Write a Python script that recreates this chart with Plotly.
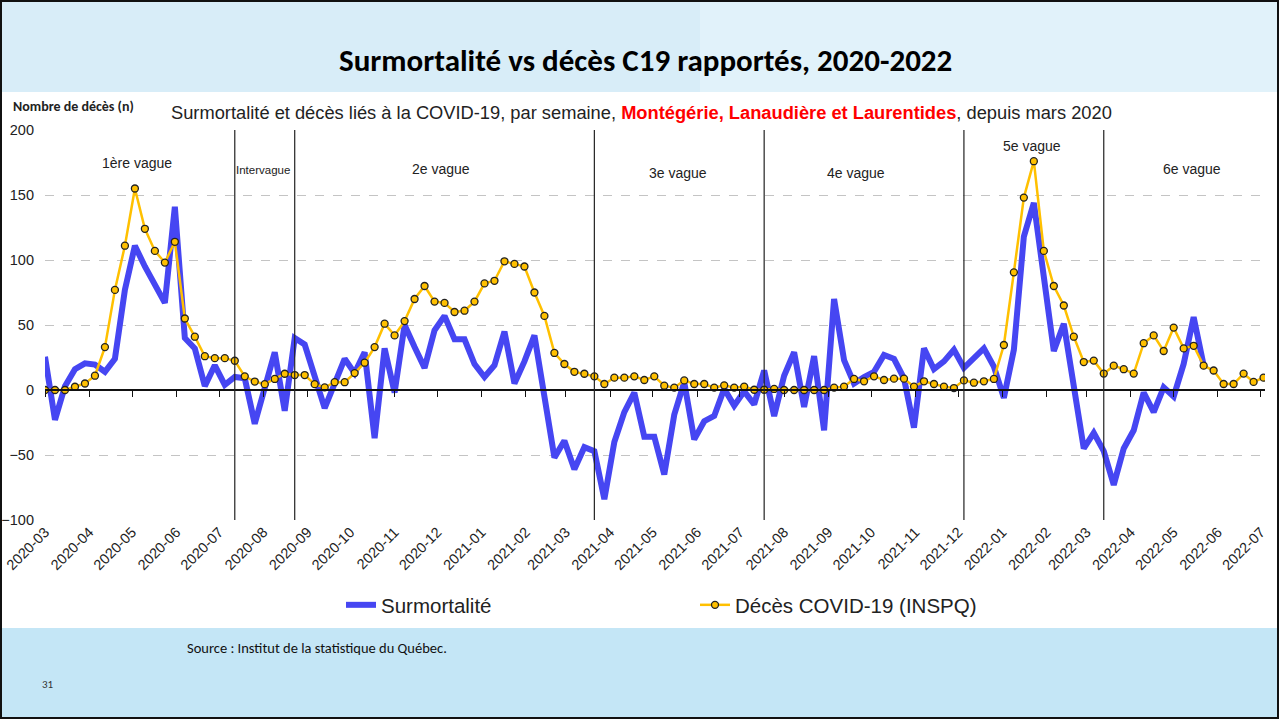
import plotly.graph_objects as go
import pandas as pd

# ---------------- data ----------------
start_date = "2020-03-01"
deces_covid = [0, 0, 0, 2.5, 5, 11, 33, 77, 111, 155,
               124, 107, 98, 114, 55, 41, 26, 24.5, 24.5, 22.5,
               10.5, 6.5, 4.5, 8.5, 12.5, 11.5, 11.5, 4.5, 2, 6,
               6, 13, 21, 33, 51, 42, 53, 70, 80, 68,
               67, 60, 61, 68, 82, 84, 99, 97, 95, 75,
               57, 28.5, 20, 14, 12.5, 10.5, 4.6, 9.5, 9.5, 10.5,
               7.7, 10.5, 3.3, 1.8, 7.4, 4.6, 4.6, 1.8, 3.6, 1.8,
               2.6, 0.2, 0.2, 0.8, 0, 0, 0, 0, 0, 1.8,
               2.6, 8.5, 6.7, 10.5, 7.7, 8.7, 8.7, 2.6, 6.7, 4.6,
               2.6, 1.5, 7.4, 5.6, 6.7, 8.5, 34.6, 90.5, 148, 176,
               107, 80, 65, 41, 21.5, 22.6, 12.6, 18.7, 16, 12.6,
               36, 42, 30, 48, 32, 34, 18.7, 15, 4.6, 4.6,
               12.6, 6.2, 9.5]
surmortalite = [25.6, -23, 3, 16, 20.5, 19.5, 14, 24, 77, 111,
                95, 80, 67, 141, 40, 32, 3, 19, 4, 10,
                9, -26, 2, 29, -16, 40, 35, 11, -14, 5,
                24, 13, 29, -37, 32, -2, 50, 33, 17, 46,
                57, 39, 39, 20, 10, 19, 45, 5, 22, 42,
                -8, -52, -39, -61, -44, -47, -84, -40, -17, -2,
                -36, -36, -65, -19, 6, -38, -24, -20, 1, -12,
                -1, -11, 15, -20, 11, 29, -13, 26, -31, 70,
                23, 5, 10, 14, 27, 24, 9, -29, 32, 16,
                22, 31, 17, 24, 32, 18, -6, 31, 118, 144,
                88, 30, 51, 0, -45, -33, -47, -73, -45, -31,
                -2, -17, 2, -5, 20, 56, 19]
wave_bounds = ["2020-07-12", "2020-08-23", "2021-03-21",
               "2021-07-18", "2021-12-05", "2022-03-13"]
wave_names = ["1ère vague", "Intervague", "2e vague", "3e vague",
              "4e vague", "5e vague", "6e vague"]
y_ticks = [-100, -50, 0, 50, 100, 150, 200]

# ---------------- layout positions (pixels) ----------------
W, H = 1279, 719
PL, PR, PT, PB = 45, 1265, 130, 520


def px_x(p):
    return (p - PL) / (PR - PL)


def px_y(p):
    return (PB - p) / (PB - PT)


wave_label_px = [(137, 163, 14), (263, 170, 11.5), (441, 169, 14),
                 (678, 173, 14), (856, 173, 14), (1032, 146, 14),
                 (1192, 169, 14)]

dates = pd.date_range(start_date, periods=len(deces_covid), freq="7D")
dates_s = dates[:len(surmortalite)]

BLUE = "#4646F2"
GOLD = "#FFC000"
ARIAL = "Liberation Sans, Arial, sans-serif"
CAL = "Carlito, Lato, sans-serif"

fig = go.Figure()
fig.add_trace(go.Scatter(
    x=dates_s, y=surmortalite, mode="lines", name="Surmortalité",
    line=dict(color=BLUE, width=6)))
fig.add_trace(go.Scatter(
    x=dates, y=deces_covid, mode="lines+markers", name="Décès COVID-19 (INSPQ)",
    line=dict(color=GOLD, width=2.5),
    marker=dict(color=GOLD, size=7, line=dict(color="#222", width=1.3))))
# invisible trace to carry the zero-line axis
fig.add_trace(go.Scatter(x=dates, y=deces_covid, xaxis="x2", mode="lines",
                         line=dict(width=0), opacity=0, showlegend=False,
                         hoverinfo="skip"))

x_end = dates[-1] + pd.Timedelta(days=1)

shapes = []
# backgrounds
shapes.append(dict(type="rect", xref="paper", yref="paper", layer="below",
                   x0=px_x(0), x1=px_x(W), y0=px_y(92), y1=px_y(0),
                   fillcolor="#d8edf8", line=dict(width=0)))
shapes.append(dict(type="rect", xref="paper", yref="paper", layer="below",
                   x0=px_x(700), x1=px_x(W), y0=px_y(92), y1=px_y(0),
                   fillcolor="#e6f4fb", line=dict(width=0), opacity=0.7))
shapes.append(dict(type="rect", xref="paper", yref="paper", layer="below",
                   x0=px_x(0), x1=px_x(W), y0=px_y(H), y1=px_y(628),
                   fillcolor="#c4e6f6", line=dict(width=0)))
# wave boundaries
for d in wave_bounds:
    shapes.append(dict(type="line", xref="x", yref="y", x0=d, x1=d,
                       y0=y_ticks[0], y1=y_ticks[-1],
                       line=dict(color="#222", width=1.2)))
# slide border
shapes.append(dict(type="rect", xref="paper", yref="paper",
                   x0=px_x(1), x1=px_x(W - 1), y0=px_y(H - 1), y1=px_y(1),
                   line=dict(color="#111", width=2)))

annotations = []
annotations.append(dict(
    text="<b>Surmortalité vs décès C19 rapportés, 2020-2022</b>",
    xref="paper", yref="paper", x=px_x(645), y=px_y(60), showarrow=False,
    xanchor="center", yanchor="middle",
    font=dict(family=CAL, size=31, color="#000")))
annotations.append(dict(
    text="Surmortalité et décès liés à la COVID-19, par semaine, "
         "<span style='color:#FF0000'><b>Montégérie, Lanaudière et Laurentides</b></span>"
         ", depuis mars 2020",
    xref="paper", yref="paper", x=px_x(641), y=px_y(113), showarrow=False,
    xanchor="center", yanchor="middle",
    font=dict(family=ARIAL, size=18.3, color="#222")))
annotations.append(dict(
    text="<b>Nombre de décès (n)</b>", xref="paper", yref="paper",
    x=px_x(11), y=px_y(106), showarrow=False, xanchor="left", yanchor="middle",
    font=dict(family=CAL, size=14, color="#222")))
for name, (lx, ly, fs) in zip(wave_names, wave_label_px):
    annotations.append(dict(
        text=name, xref="paper", yref="paper", x=px_x(lx), y=px_y(ly),
        showarrow=False, xanchor="center", yanchor="middle",
        font=dict(family=ARIAL, size=fs, color="#222")))
annotations.append(dict(
    text="Source : Institut de la statistique du Québec.", xref="paper",
    yref="paper", x=px_x(185), y=px_y(648), showarrow=False,
    xanchor="left", yanchor="middle",
    font=dict(family=CAL, size=14.5, color="#111")))
annotations.append(dict(
    text="31", xref="paper", yref="paper", x=px_x(40), y=px_y(684),
    showarrow=False, xanchor="left", yanchor="middle",
    font=dict(family=CAL, size=11, color="#333")))

fig.update_layout(
    width=W, height=H,
    margin=dict(l=PL, r=W - PR, t=PT, b=H - PB, pad=0, autoexpand=False),
    paper_bgcolor="white", plot_bgcolor="white",
    showlegend=True,
    legend=dict(orientation="h", x=px_x(341), y=px_y(605),
                xanchor="left", yanchor="middle",
                font=dict(family=ARIAL, size=20.5, color="#222"),
                entrywidth=309, entrywidthmode="pixels",
                bgcolor="rgba(0,0,0,0)"),
    xaxis=dict(type="date", range=[dates[0], x_end], automargin=False,
               tickformat="%Y-%m", dtick="M1", tick0=start_date,
               tickangle=-45, showgrid=False, zeroline=False,
               showline=False, ticks="",
               tickfont=dict(family=ARIAL, size=14.5, color="#222")),
    xaxis2=dict(type="date", overlaying="x", matches="x", anchor="free",
                position=px_y(390), side="bottom", automargin=False,
                range=[dates[0], x_end], dtick="M1", tick0=start_date,
                showline=True, linecolor="#111", linewidth=1.5,
                ticks="outside", ticklen=6, tickcolor="#111", tickwidth=1.2,
                showticklabels=False, showgrid=False, zeroline=False),
    yaxis=dict(range=[y_ticks[0], y_ticks[-1]], tickvals=y_ticks,
               automargin=False,
               showgrid=True, gridcolor="#c4c4c4", griddash="dash",
               gridwidth=1, zeroline=False, showline=False,
               ticklabelstandoff=10,
               tickfont=dict(family=ARIAL, size=14.5, color="#222")),
    shapes=shapes,
    annotations=annotations,
)

fig.write_html("out.html", config={"displayModeBar": False},
               post_script="document.body.style.margin='0';"
                           "document.body.style.overflow='hidden';")
